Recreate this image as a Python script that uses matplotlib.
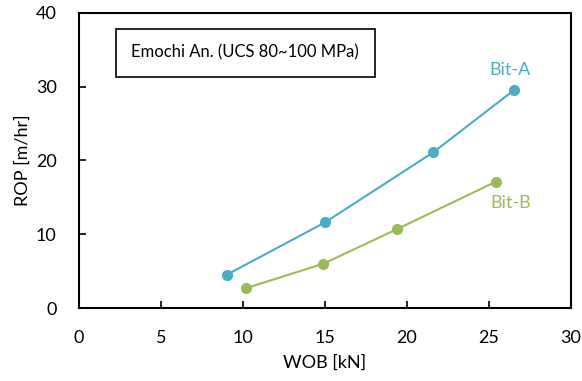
import matplotlib

matplotlib.use("Agg")

import matplotlib.pyplot as plt  # noqa: E402

plt.rcParams["font.family"] = ["Lato", "DejaVu Sans"]

# Bit-A series
wob_a = [9.0, 15.0, 21.6, 26.5]
rop_a = [4.5, 11.6, 21.1, 29.5]

# Bit-B series
wob_b = [10.2, 14.9, 19.4, 25.4]
rop_b = [2.7, 6.0, 10.7, 17.1]

x_ticks = [0, 5, 10, 15, 20, 25, 30]
y_ticks = [0, 10, 20, 30, 40]

color_a = "#4BACC6"
color_b = "#9BBB59"

fig = plt.figure(figsize=(5.82, 3.81), dpi=100)
ax = fig.add_axes([0.1357, 0.1916, 0.8453, 0.7743])

ax.plot(wob_a, rop_a, color=color_a, linewidth=1.5, marker="o", markersize=7)
ax.plot(wob_b, rop_b, color=color_b, linewidth=1.5, marker="o", markersize=7)

ax.set_xlim(0, 30)
ax.set_ylim(0, 40)
ax.set_xticks(x_ticks)
ax.set_yticks(y_ticks)
ax.tick_params(direction="in", length=5, width=1.2, labelsize=13)
ax.tick_params(axis="x", pad=16)
ax.tick_params(axis="y", pad=16)
for spine in ax.spines.values():
    spine.set_linewidth(1.5)

ax.set_xlabel("WOB [kN]", fontsize=13, labelpad=6)
ax.set_ylabel("ROP [m/hr]", fontsize=13, labelpad=4)

ax.text(26.3, 31.6, "Bit-A", color=color_a, fontsize=13, ha="center")
ax.text(26.3, 13.6, "Bit-B", color=color_b, fontsize=13, ha="center")

ax.text(
    3.2, 34.6, "Emochi An. (UCS 80~100 MPa)", fontsize=12, va="center",
    bbox=dict(boxstyle="square,pad=0.95", facecolor="white", edgecolor="black", linewidth=1.2),
)

fig.savefig("out.png", dpi=100)
plt.close(fig)
